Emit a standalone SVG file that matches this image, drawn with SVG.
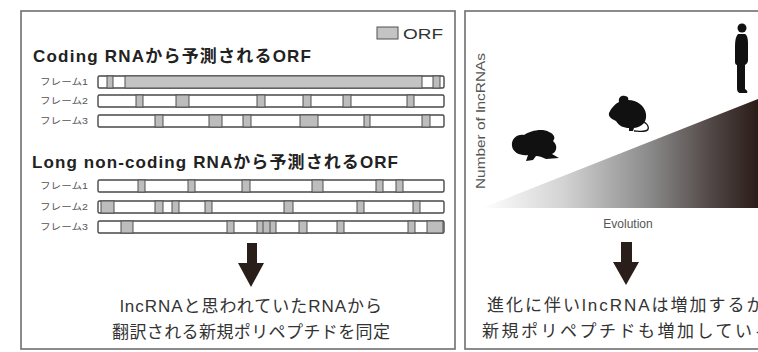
<svg xmlns="http://www.w3.org/2000/svg" width="758" height="352" viewBox="0 0 758 352">
  <defs>
    <style>
      text { font-family: "Liberation Sans", "Noto Sans CJK JP", sans-serif; }
      .panel { fill: #ffffff; stroke: #6e6e6e; stroke-width: 1.6; }
      .title { font-size: 17px; font-weight: bold; fill: #222; }
      .frame { font-size: 9px; fill: #555; }
      .bar { fill: #ffffff; stroke: #484848; stroke-width: 1.4; }
      .mk { fill: #bdbdbd; stroke: #505050; stroke-width: 1; }
      .orf { fill: #c4c4c4; stroke: #505050; stroke-width: 1; }
      .note { font-size: 17px; fill: #333; }
      .axis { font-size: 12px; fill: #555; }
      .arrow { fill: #2a1e1b; }
      .animal { fill: #111; }
    </style>
    <linearGradient id="evo" gradientUnits="userSpaceOnUse" x1="482" y1="0" x2="758" y2="0">
      <stop offset="0" stop-color="#ffffff"/>
      <stop offset="0.3" stop-color="#d2d2d2"/>
      <stop offset="0.6" stop-color="#8c8c8c"/>
      <stop offset="0.85" stop-color="#4c4240"/>
      <stop offset="1" stop-color="#2a1c18"/>
    </linearGradient>
  </defs>

  <rect width="758" height="352" fill="#ffffff"/>

  <!-- Left panel: ORF prediction -->
  <g id="orf-panel">
    <rect class="panel" x="21" y="11" width="434" height="338"/>
    <g id="legend">
      <rect class="orf" x="377" y="27" width="21" height="12"/>
      <text x="403" y="39" font-size="15" fill="#333" textLength="40" lengthAdjust="spacingAndGlyphs">ORF</text>
    </g>

    <g id="coding">
      <text class="title" x="33" y="62" textLength="278" lengthAdjust="spacing">Coding RNAから予測されるORF</text>
      <text class="frame" x="40" y="85" textLength="48" lengthAdjust="spacingAndGlyphs">フレーム1</text>
      <text class="frame" x="40" y="104" textLength="48" lengthAdjust="spacingAndGlyphs">フレーム2</text>
      <text class="frame" x="40" y="124" textLength="48" lengthAdjust="spacingAndGlyphs">フレーム3</text>
      <!-- frame 1 -->
      <rect class="bar" x="98" y="76" width="346" height="12" rx="1.5"/>
      <rect class="orf" x="125" y="76" width="297" height="12"/>
      <rect class="mk" x="107" y="76" width="6" height="12"/>
      <rect class="mk" x="433" y="76" width="7" height="12"/>
      <!-- frame 2 -->
      <rect class="bar" x="98" y="95" width="346" height="12" rx="1.5"/>
      <rect class="mk" x="136" y="95" width="7" height="12"/>
      <rect class="mk" x="176" y="95" width="13" height="12"/>
      <rect class="mk" x="257" y="95" width="8" height="12"/>
      <rect class="mk" x="303" y="95" width="8" height="12"/>
      <rect class="mk" x="343" y="95" width="8" height="12"/>
      <rect class="mk" x="407" y="95" width="7" height="12"/>
      <!-- frame 3 -->
      <rect class="bar" x="98" y="115" width="346" height="12" rx="1.5"/>
      <rect class="mk" x="155" y="115" width="8" height="12"/>
      <rect class="mk" x="209" y="115" width="13" height="12"/>
      <rect class="mk" x="243" y="115" width="8" height="12"/>
      <rect class="mk" x="300" y="115" width="18" height="12"/>
      <rect class="mk" x="364" y="115" width="6" height="12"/>
      <rect class="mk" x="422" y="115" width="8" height="12"/>
    </g>

    <g id="noncoding">
      <text class="title" x="32" y="168" textLength="366" lengthAdjust="spacing">Long non-coding RNAから予測されるORF</text>
      <text class="frame" x="40" y="189" textLength="48" lengthAdjust="spacingAndGlyphs">フレーム1</text>
      <text class="frame" x="40" y="210" textLength="48" lengthAdjust="spacingAndGlyphs">フレーム2</text>
      <text class="frame" x="40" y="230" textLength="48" lengthAdjust="spacingAndGlyphs">フレーム3</text>
      <!-- frame 1 -->
      <rect class="bar" x="98" y="180" width="346" height="12" rx="1.5"/>
      <rect class="mk" x="138" y="180" width="7" height="12"/>
      <rect class="mk" x="188" y="180" width="7" height="12"/>
      <rect class="mk" x="242" y="180" width="8" height="12"/>
      <rect class="mk" x="312" y="180" width="11" height="12"/>
      <rect class="mk" x="376" y="180" width="7" height="12"/>
      <rect class="mk" x="396" y="180" width="7" height="12"/>
      <!-- frame 2 -->
      <rect class="bar" x="98" y="201" width="346" height="12" rx="1.5"/>
      <rect class="mk" x="101" y="201" width="13" height="12"/>
      <rect class="mk" x="155" y="201" width="8" height="12"/>
      <rect class="mk" x="172" y="201" width="7" height="12"/>
      <rect class="mk" x="205" y="201" width="7" height="12"/>
      <rect class="mk" x="284" y="201" width="9" height="12"/>
      <rect class="mk" x="357" y="201" width="7" height="12"/>
      <rect class="mk" x="413" y="201" width="7" height="12"/>
      <!-- frame 3 -->
      <rect class="bar" x="98" y="221" width="346" height="12" rx="1.5"/>
      <rect class="mk" x="121" y="221" width="12" height="12"/>
      <rect class="mk" x="227" y="221" width="7" height="12"/>
      <rect class="mk" x="257" y="221" width="19" height="12"/>
      <line x1="263" y1="221" x2="263" y2="233" stroke="#505050" stroke-width="1"/>
      <line x1="270" y1="221" x2="270" y2="233" stroke="#505050" stroke-width="1"/>
      <rect class="mk" x="299" y="221" width="8" height="12"/>
      <rect class="mk" x="337" y="221" width="7" height="12"/>
      <rect class="mk" x="408" y="221" width="7" height="12"/>
      <rect class="mk" x="427" y="221" width="16" height="12"/>
    </g>

    <g id="orf-conclusion">
      <text class="note" x="251" y="312" text-anchor="middle" textLength="262" lengthAdjust="spacing">lncRNAと思われていたRNAから</text>
      <text class="note" x="251" y="338" text-anchor="middle" textLength="278" lengthAdjust="spacing">翻訳される新規ポリペプチドを同定</text>
    </g>
  </g>

  <!-- Right panel: lncRNA count over evolution -->
  <g id="evolution-panel">
    <rect class="panel" x="465" y="11" width="300" height="338"/>
    <polygon points="482,208 758,99 758,208" fill="url(#evo)"/>
    <text class="axis" transform="translate(485,121) rotate(-90)" text-anchor="middle" textLength="136" lengthAdjust="spacingAndGlyphs">Number of lncRNAs</text>
    <text class="axis" x="628" y="228" text-anchor="middle">Evolution</text>

    <g id="frog">
      <path class="animal" d="M512,146 C511,139 517,134 524,135 C530,131 542,128 549,132 C554,134 556,138 553,141 C558,145 557,152 552,154 L559,158 L546,159 C542,157 539,156 536,156 L533,160 L526,161 L528,155 C521,156 513,153 512,146 Z"/>
    </g>
    <g id="mouse">
      <path class="animal" d="M609,113 C611,108 615,104 619,102 C618,98 621,95 625,96 C628,96 629,99 628,100 C637,100 645,106 646,114 C647,122 642,127 634,128 L633,131 L629,131 L629,128 C624,128 619,126 616,121 C612,119 608,117 609,113 Z"/>
      <path d="M644,122 C649,125 650,130 645,131 C641,132 637,131 634,131" fill="none" stroke="#111" stroke-width="1.3"/>
    </g>
    <g id="human">
      <circle class="animal" cx="742" cy="28" r="4.5"/>
      <path class="animal" d="M738,34 C736,36 735,40 735,46 L735,62 C735,64 736,65 737,65 L737,88 C737,91 738,93 741,93 L747,93 C748,92 747,90 745,89 L745,65 C747,64 748,62 748,60 L748,44 C748,38 747,35 745,34 Z"/>
    </g>

    <g id="evolution-question">
      <text class="note" x="487" y="311" letter-spacing="2">進化に伴いlncRNAは増加するか</text>
      <text class="note" x="482" y="337" letter-spacing="2.5">新規ポリペプチドも増加しているか</text>
    </g>
  </g>

  <!-- Downward arrows -->
  <g id="connectors">
    <path class="arrow" d="M247,243 L257,243 L257,263 L264,263 L251,287 L238,263 L247,263 Z"/>
    <path class="arrow" d="M621,242 L632,242 L632,262 L639,262 L626,285 L613,262 L621,262 Z"/>
  </g>
</svg>
